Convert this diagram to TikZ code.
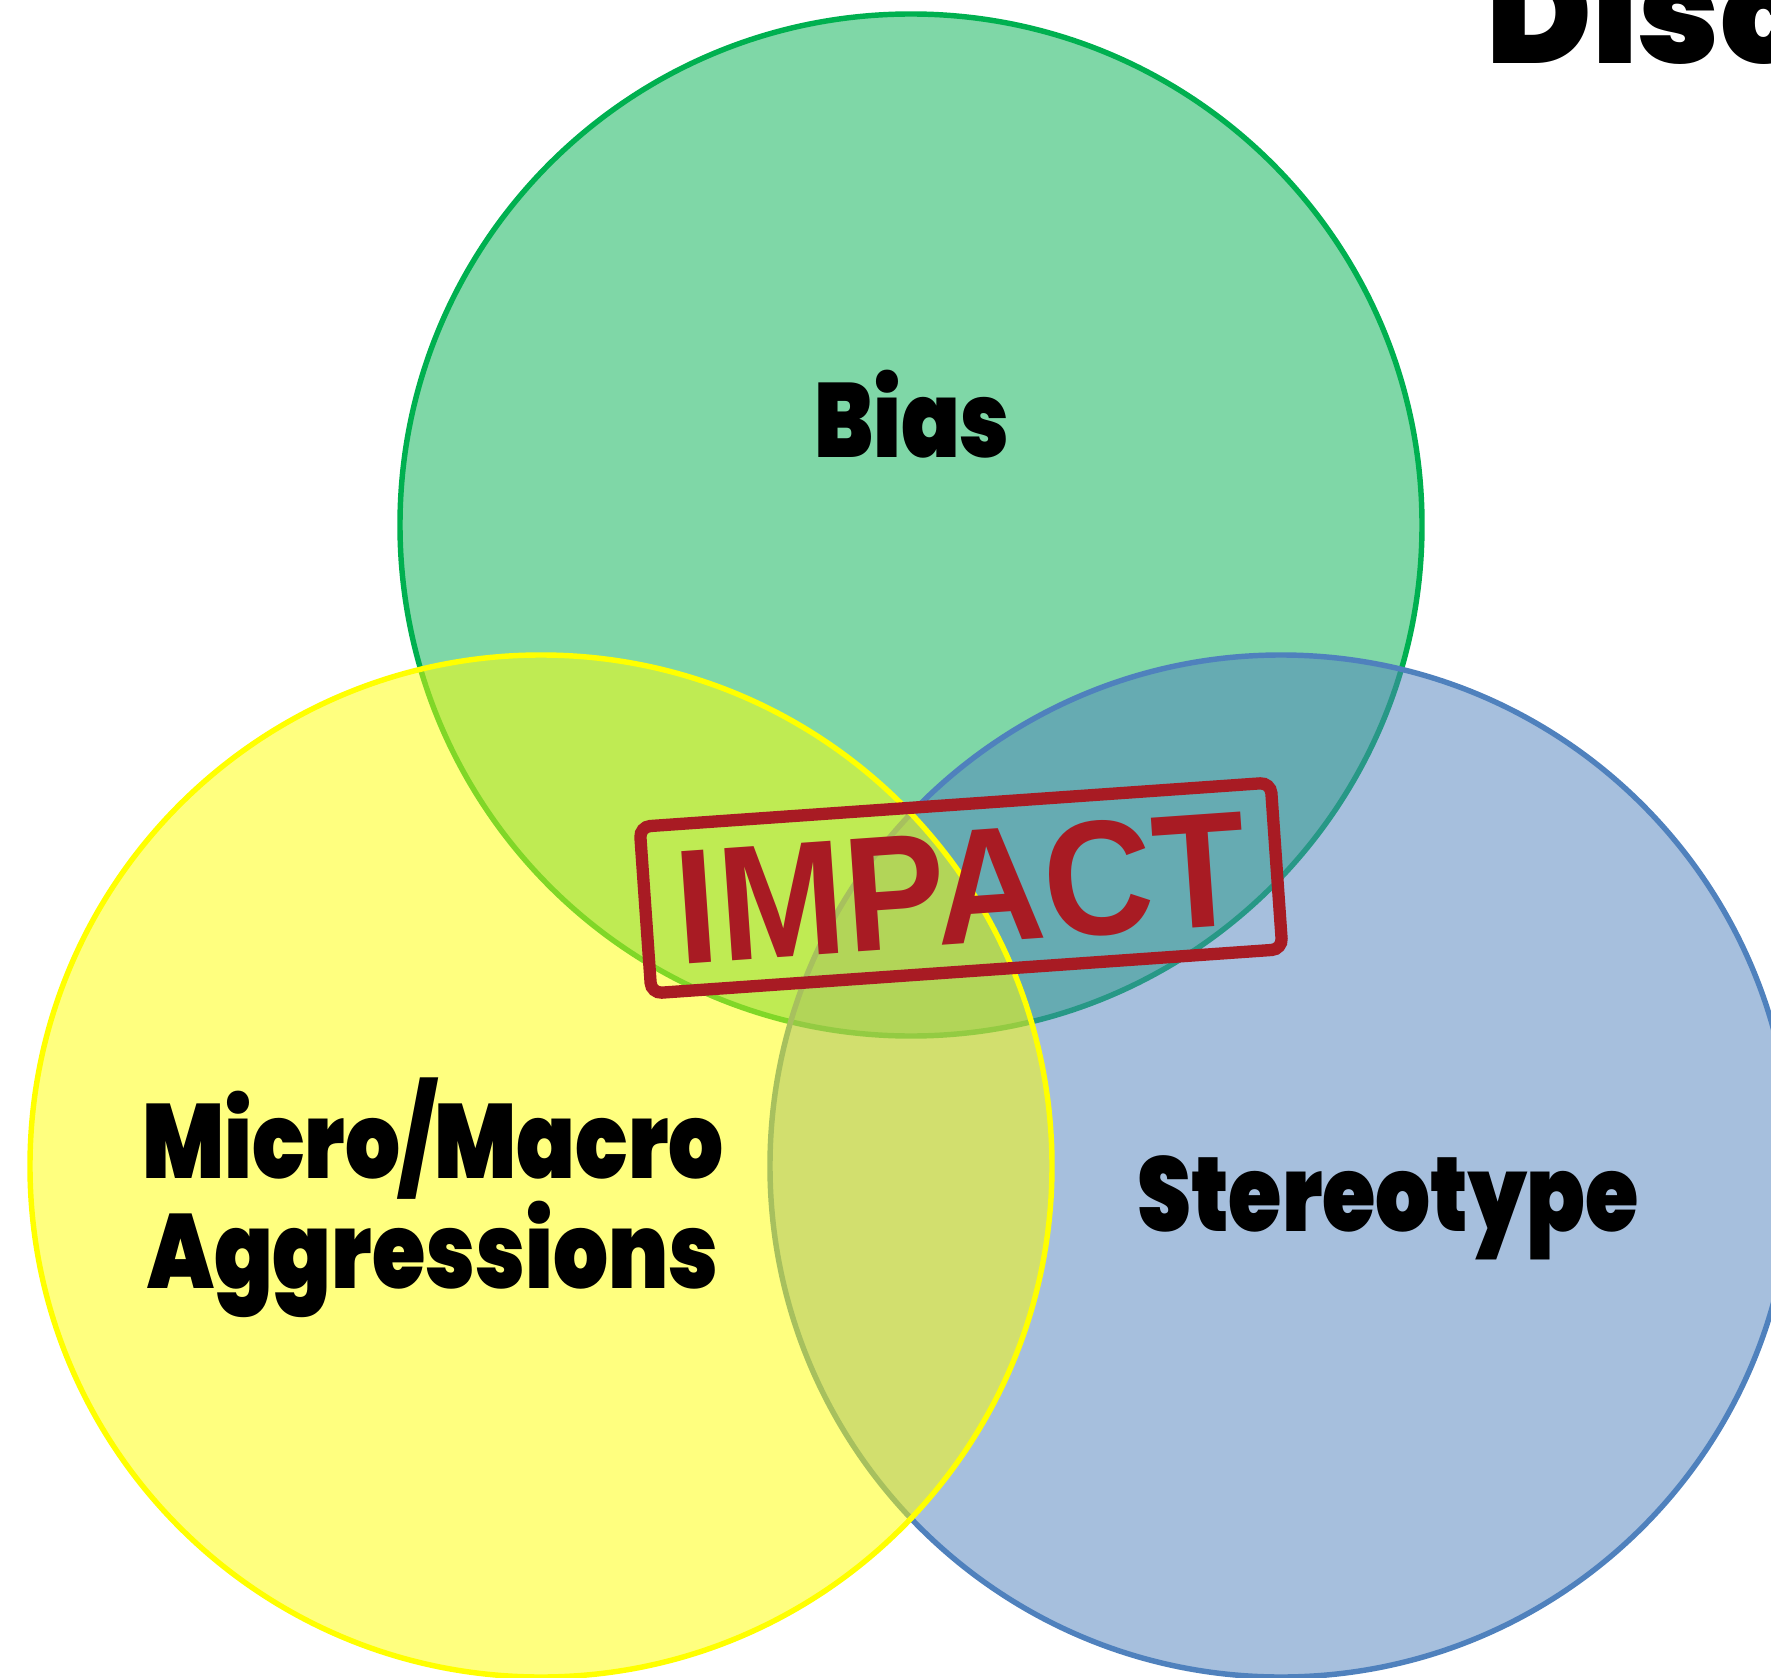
\documentclass[tikz,border=0pt]{standalone}
\usepackage{xcolor}
\usepackage{fontspec}
\usepackage{tikz}
\usetikzlibrary{positioning}
\usetikzlibrary{calc}
\newfontfamily\vennfont{Poppins Black}
\newfontfamily\stampfont{Liberation Sans}
\definecolor{biasgreen}{RGB}{0,176,80}
\definecolor{aggyellow}{RGB}{255,255,0}
\definecolor{stereoblue}{RGB}{79,129,189}
\definecolor{stampred}{RGB}{168,27,35}
\tikzset{venn/.style={circle,draw,line width=3.1pt,fill opacity=0.5,minimum size=204.4mm,inner sep=0pt}}
\tikzset{lbl/.style={font=\vennfont\fontsize{60}{62.5}\selectfont,align=center,inner sep=0pt,xscale=0.82}}
\tikzset{stamp/.style={draw=stampred,text=stampred,line width=7pt,rounded corners=6pt,minimum width=126.5mm,minimum height=33.4mm,inner sep=0pt}}

\begin{document}
\begin{tikzpicture}[x=0.2mm,y=-0.2mm]

	\useasboundingbox (0,0) rectangle (1771,1678);
	\clip (0,0) rectangle (1771,1678);
	\fill[white] (0,0) rectangle (1771,1678);

	% the three sets, drawn in back-to-front order
	\foreach \name/\x/\y/\col in {bias/911/525/biasgreen, stereo/1281/1166/stereoblue, agg/541/1166/aggyellow} {
		\node[venn, fill=\col, draw=\col] (\name) at (\x,\y) {};
	}

	\node[lbl, anchor=base] (biaslbl) at (912,457) {Bias};
	\node[lbl, anchor=base] (agglbl) at (433,1288) {Micro/Macro\\Aggressions};
	\node[lbl, anchor=base] (stereolbl) at (1388,1231) {Stereotype};

	% stamp in the middle
	\node[stamp, rotate=4] (impact) at (961,888) {\stampfont\bfseries\fontsize{93}{93}\selectfont\scalebox{0.93}[1]{IMPACT}};

	\node[anchor=base west, inner sep=0pt, font=\vennfont\fontsize{81}{81}\selectfont] (title) at (1486,64) {Disc};

\end{tikzpicture}
\end{document}
